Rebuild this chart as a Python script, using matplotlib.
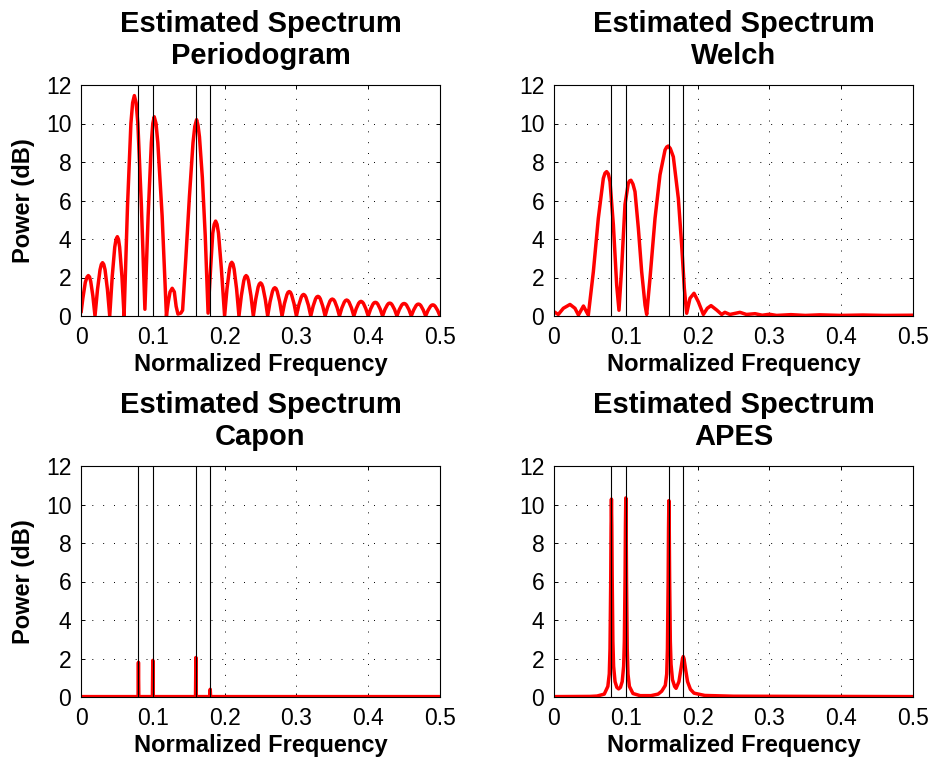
import matplotlib
matplotlib.use("Agg")
import matplotlib.pyplot as plt

plt.rcParams['font.family'] = ['Liberation Sans', 'DejaVu Sans']
plt.rcParams['lines.scale_dashes'] = False

# ---------------- data ----------------
true_freqs = [0.08, 0.10, 0.16, 0.18]

x_ticks = [0, 0.1, 0.2, 0.3, 0.4, 0.5]
x_tick_labels = ["0", "0.1", "0.2", "0.3", "0.4", "0.5"]
y_ticks = [0, 2, 4, 6, 8, 10, 12]
y_tick_labels = ["0", "2", "4", "6", "8", "10", "12"]

titles = ["Estimated Spectrum\nPeriodogram", "Estimated Spectrum\nWelch",
          "Estimated Spectrum\nCapon", "Estimated Spectrum\nAPES"]

periodogram_f = [
    0.000, 0.0025, 0.006, 0.0085, 0.0102, 0.0119, 0.0135, 0.0165,
    0.0195, 0.023, 0.0265, 0.0283, 0.030, 0.0317, 0.0335, 0.0368,
    0.040, 0.0435, 0.047, 0.0488, 0.0506, 0.0522, 0.0538, 0.057,
    0.060, 0.0648, 0.0695, 0.0719, 0.0743, 0.0768, 0.0792, 0.0841,
    0.089, 0.0935, 0.098, 0.100, 0.102, 0.1045, 0.107, 0.113,
    0.119, 0.1215, 0.124, 0.127, 0.130, 0.1325, 0.135, 0.139,
    0.1415, 0.146, 0.151, 0.156, 0.1585, 0.161, 0.163, 0.165, 0.169, 0.173,
    0.177, 0.1805, 0.1835, 0.1855, 0.1875, 0.1895, 0.1915, 0.1955,
    0.200, 0.2033, 0.2067, 0.2083, 0.210, 0.2117, 0.2133, 0.2167,
    0.220, 0.2233, 0.2267, 0.2283, 0.230, 0.2317, 0.2333, 0.2367,
    0.240, 0.2433, 0.2467, 0.2483, 0.250, 0.2517, 0.2533, 0.2567,
    0.260, 0.2633, 0.2667, 0.2683, 0.270, 0.2717, 0.2733, 0.2767,
    0.280, 0.2833, 0.2867, 0.2883, 0.290, 0.2917, 0.2933, 0.2967,
    0.300, 0.3033, 0.3067, 0.3083, 0.310, 0.3117, 0.3133, 0.3167,
    0.320, 0.3233, 0.3267, 0.3283, 0.330, 0.3317, 0.3333, 0.3367,
    0.340, 0.3433, 0.3467, 0.3483, 0.350, 0.3517, 0.3533, 0.3567,
    0.360, 0.3633, 0.3667, 0.3683, 0.370, 0.3717, 0.3733, 0.3767,
    0.380, 0.3833, 0.3867, 0.3883, 0.390, 0.3917, 0.3933, 0.3967,
    0.400, 0.4033, 0.4067, 0.4083, 0.410, 0.4117, 0.4133, 0.4167,
    0.420, 0.4233, 0.4267, 0.4283, 0.430, 0.4317, 0.4333, 0.4367,
    0.440, 0.4433, 0.4467, 0.4483, 0.450, 0.4517, 0.4533, 0.4567,
    0.460, 0.4633, 0.4667, 0.4683, 0.470, 0.4717, 0.4733, 0.4767,
    0.480, 0.4833, 0.4867, 0.4883, 0.490, 0.4917, 0.4933, 0.4967,
    0.500,
]
periodogram_p = [
    0.15, 0.90, 1.75, 2.03, 2.10, 2.03, 1.80, 1.05,
    0.00, 1.38, 2.40, 2.68, 2.77, 2.68, 2.40, 1.38,
    0.00, 2.06, 3.58, 3.98, 4.12, 3.98, 3.58, 2.06,
    0.00, 5.74, 10.0, 11.07, 11.45, 11.07, 10.0, 5.74,
    0.35, 5.20, 9.00, 10.0, 10.35, 10.0, 9.00, 5.20,
    0.00, 0.72, 1.25, 1.44, 1.25, 0.50, 0.10, 0.15,
    0.30, 3.00, 6.20, 9.00, 9.85, 10.20, 9.90, 9.30, 7.20, 4.20,
    0.15, 2.46, 4.30, 4.76, 4.93, 4.76, 4.30, 2.46,
    0.00, 1.40, 2.43, 2.70, 2.79, 2.70, 2.43, 1.40,
    0.00, 1.05, 1.83, 2.03, 2.10, 2.03, 1.83, 1.05,
    0.00, 0.86, 1.50, 1.66, 1.72, 1.66, 1.50, 0.86,
    0.00, 0.74, 1.28, 1.42, 1.47, 1.42, 1.28, 0.74,
    0.00, 0.64, 1.10, 1.23, 1.27, 1.23, 1.10, 0.64,
    0.00, 0.56, 0.97, 1.08, 1.12, 1.08, 0.97, 0.56,
    0.00, 0.51, 0.89, 0.99, 1.02, 0.99, 0.89, 0.51,
    0.00, 0.44, 0.77, 0.85, 0.88, 0.85, 0.77, 0.44,
    0.00, 0.42, 0.72, 0.80, 0.83, 0.80, 0.72, 0.42,
    0.00, 0.38, 0.66, 0.73, 0.76, 0.73, 0.66, 0.38,
    0.00, 0.36, 0.62, 0.69, 0.71, 0.69, 0.62, 0.36,
    0.00, 0.34, 0.58, 0.65, 0.67, 0.65, 0.58, 0.34,
    0.00, 0.33, 0.57, 0.63, 0.65, 0.63, 0.57, 0.33,
    0.00, 0.31, 0.54, 0.60, 0.62, 0.60, 0.54, 0.31,
    0.00, 0.29, 0.50, 0.56, 0.58, 0.56, 0.50, 0.29,
    0.00,
]

welch_f = [
    0.000, 0.006, 0.013, 0.0223, 0.0292, 0.034, 0.041, 0.0455,
    0.0478, 0.0548, 0.0617, 0.0687, 0.071, 0.0733, 0.0757, 0.078, 0.0827, 0.0873,
    0.0905, 0.0942, 0.0989, 0.1035, 0.1053, 0.1072, 0.110, 0.1128, 0.1175, 0.1221, 0.1268,
    0.1291, 0.1337, 0.1407, 0.1476, 0.1546, 0.157, 0.1592, 0.162, 0.1662, 0.1732, 0.1778, 0.1815,
    0.1848, 0.1894, 0.195, 0.201, 0.208, 0.2135, 0.2187, 0.2266,
    0.2335, 0.238, 0.245, 0.259, 0.268, 0.28, 0.29, 0.30, 0.31,
    0.33, 0.35, 0.37, 0.40, 0.43, 0.46, 0.50,
]
welch_p = [
    0.22, 0.08, 0.40, 0.60, 0.40, 0.05, 0.52, 0.20,
    0.05, 2.30, 5.07, 7.15, 7.42, 7.50, 7.38, 6.98, 4.73, 1.60,
    0.30, 2.48, 5.80, 6.90, 7.02, 7.05, 6.85, 6.46, 4.55, 2.30, 0.57,
    0.08, 1.96, 5.07, 7.33, 8.62, 8.78, 8.83, 8.70, 8.27, 6.10, 3.69, 1.44,
    0.14, 0.92, 1.18, 0.74, 0.08, 0.40, 0.54, 0.31,
    0.08, 0.19, 0.08, 0.19, 0.08, 0.12, 0.04, 0.09, 0.03,
    0.07, 0.03, 0.06, 0.03, 0.05, 0.03, 0.04,
]

capon_f = [0.000, 0.0795, 0.080, 0.0805, 0.0995, 0.100, 0.1005,
           0.1595, 0.160, 0.1605, 0.1795, 0.180, 0.1805, 0.500]
capon_p = [0.02, 0.02, 1.80, 0.02, 0.02, 1.90, 0.02,
           0.02, 2.05, 0.02, 0.02, 0.40, 0.02, 0.02]

apes_f = [
    0.000, 0.050, 0.060, 0.070, 0.075, 0.077, 0.078, 0.079, 0.0795, 0.080,
    0.0805, 0.081, 0.082, 0.083, 0.085, 0.0875, 0.090, 0.0925, 0.095, 0.097,
    0.098, 0.099, 0.0995, 0.100, 0.1005, 0.101, 0.102, 0.103, 0.105, 0.110,
    0.120, 0.135, 0.145, 0.150, 0.155, 0.157, 0.158, 0.159, 0.1595, 0.160,
    0.1605, 0.161, 0.162, 0.163, 0.165, 0.168, 0.170, 0.174, 0.177, 0.179,
    0.180, 0.181, 0.183, 0.186, 0.190, 0.195, 0.210, 0.250, 0.500,
]
apes_p = [
    0.02, 0.03, 0.05, 0.15, 0.55, 1.20, 2.50, 6.00, 8.80, 10.28,
    8.90, 6.30, 2.90, 1.60, 0.80, 0.50, 0.42, 0.50, 0.80, 1.60,
    2.90, 6.30, 8.90, 10.34, 8.80, 6.10, 2.50, 1.20, 0.55, 0.18,
    0.07, 0.07, 0.15, 0.30, 0.60, 1.20, 2.50, 6.00, 8.70, 10.20,
    8.80, 6.20, 2.90, 1.70, 0.90, 0.55, 0.45, 0.80, 1.50, 2.00,
    2.10, 2.00, 1.50, 0.80, 0.40, 0.20, 0.08, 0.04, 0.02,
]

series = [(periodogram_f, periodogram_p), (welch_f, welch_p),
          (capon_f, capon_p), (apes_f, apes_p)]

# ---------------- figure ----------------
W, H = 935, 763
fig = plt.figure(figsize=(W / 100, H / 100), dpi=100)

lefts = [81, 554]
tops = [85, 466]
aw, ah = 359, 231

for i, (title, (f, p)) in enumerate(zip(titles, series)):
    r, c = divmod(i, 2)
    rect = [lefts[c] / W, 1 - (tops[r] + ah) / H, aw / W, ah / H]
    ax = fig.add_axes(rect)
    ax.plot(f, p, color='#ff0000', lw=2.5, solid_joinstyle='round',
            solid_capstyle='butt', zorder=2)
    for tf in true_freqs:
        ax.axvline(tf, color='k', lw=0.8, zorder=3)
    ax.set_xlim(0, 0.5)
    ax.set_ylim(0, 12)
    ax.set_xticks(x_ticks)
    ax.set_xticklabels(x_tick_labels)
    ax.set_yticks(y_ticks)
    ax.set_yticklabels(y_tick_labels)
    ax.grid(True, color='k', lw=0.7, linestyle=(0, (0.7, 7.1)))
    ax.set_axisbelow(True)
    ax.tick_params(direction='in', length=3, width=0.7, top=True, right=True,
                   labelsize=16.5, pad=7)
    for s in ax.spines.values():
        s.set_linewidth(0.8)
        s.set_zorder(4)
    ax.set_title(title, fontsize=21, fontweight='bold', pad=15, linespacing=1.2)
    ax.set_xlabel("Normalized Frequency", fontsize=17, fontweight='bold', labelpad=3)
    if c == 0:
        ax.set_ylabel("Power (dB)", fontsize=17, fontweight='bold', labelpad=8)

fig.savefig("out.png", dpi=100)
